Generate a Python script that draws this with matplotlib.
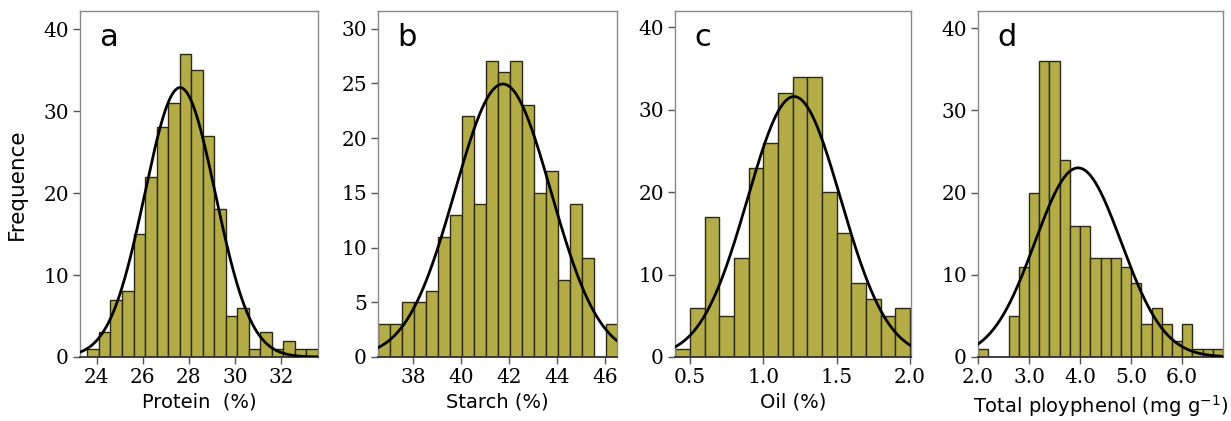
import numpy as np
import matplotlib
matplotlib.use("Agg")
import matplotlib.pyplot as plt

# -------- data ---------------------------------
protein_start, protein_width = 23.6, 0.5
protein_counts = [1, 3, 7, 8, 15, 22, 28, 31, 37, 35, 27, 18, 5, 6, 1, 3, 1, 2, 1, 1]
protein_fit = (27.62, 1.53)

starch_start, starch_width = 36.55, 0.5
starch_counts = [3, 3, 5, 5, 6, 11, 13, 22, 14, 27, 26, 27, 23, 15, 17, 7, 14, 9, 0, 3]
starch_fit = (41.75, 2.0)

oil_start, oil_width = 0.4, 0.1
oil_counts = [1, 6, 17, 5, 12, 23, 26, 32, 34, 34, 20, 15, 9, 7, 5, 6]
oil_fit = (1.21, 0.318)

phenol_start, phenol_width = 2.0, 0.2
phenol_counts = [1, 0, 0, 5, 11, 20, 36, 36, 24, 16, 16, 12, 12, 12, 11, 9,
                 4, 6, 4, 2, 4, 1, 1, 1]
phenol_fit = (3.96, 0.846)

panel_letters = ["a", "b", "c", "d"]
x_labels = ["Protein  (%)", "Starch (%)", "Oil (%)", r"Total ployphenol (mg g$^{-1}$)"]
x_ticks = [[24, 26, 28, 30, 32], [38, 40, 42, 44, 46], [0.5, 1.0, 1.5, 2.0],
           [2.0, 3.0, 4.0, 5.0, 6.0]]
x_ticklabels = [["24", "26", "28", "30", "32"], ["38", "40", "42", "44", "46"],
                ["0.5", "1.0", "1.5", "2.0"], ["2.0", "3.0", "4.0", "5.0", "6.0"]]
y_ticks = [[0, 10, 20, 30, 40], [0, 5, 10, 15, 20, 25, 30], [0, 10, 20, 30, 40],
           [0, 10, 20, 30, 40]]
x_limits = [(23.28, 33.6), (36.55, 46.5), (0.398, 2.007), (2.0, 6.8)]
y_limits = [(0, 42.2), (0, 31.6), (0, 42.0), (0, 42.1)]
# ---------------------------

BAR_COLOR = "#b4ac46"
EDGE_COLOR = "#2b2a14"
SPINE_COLOR = "#8a8a8a"

panels = [
    (protein_start, protein_width, protein_counts, protein_fit),
    (starch_start, starch_width, starch_counts, starch_fit),
    (oil_start, oil_width, oil_counts, oil_fit),
    (phenol_start, phenol_width, phenol_counts, phenol_fit),
]

# axes boxes in pixels: left, right
boxes = [(80, 318), (378, 617), (675, 911), (978, 1223)]
W, H = 1231, 421
top_px, bottom_px = 11, 357

fig = plt.figure(figsize=(W / 100, H / 100), dpi=100)

for i, (start, width, counts, (mu, sd)) in enumerate(panels):
    l, r = boxes[i]
    ax = fig.add_axes([l / W, 1 - bottom_px / H, (r - l) / W, (bottom_px - top_px) / H])
    counts = np.asarray(counts)
    edges = start + width * np.arange(len(counts))
    ax.bar(edges, counts, width=width, align="edge", color=BAR_COLOR,
           edgecolor=EDGE_COLOR, linewidth=1.0, zorder=2)

    # fitted normal curve scaled to counts
    xs = np.linspace(x_limits[i][0], x_limits[i][1], 300)
    n = counts.sum()
    ys = n * width / (sd * np.sqrt(2 * np.pi)) * np.exp(-0.5 * ((xs - mu) / sd) ** 2)
    ax.plot(xs, ys, color="black", linewidth=2.0, zorder=3)

    ax.set_xlim(*x_limits[i])
    ax.set_ylim(*y_limits[i])
    ax.set_xticks(x_ticks[i])
    ax.set_xticklabels(x_ticklabels[i], family="DejaVu Serif", fontsize=14.5)
    ax.set_yticks(y_ticks[i])
    ax.set_yticklabels([str(v) for v in y_ticks[i]], family="DejaVu Serif", fontsize=14.5)
    ax.tick_params(direction="out", length=5, width=1, color="#555555",
                   top=False, right=False, pad=3)
    for s in ax.spines.values():
        s.set_color(SPINE_COLOR)
        s.set_linewidth(1.0)
    ax.spines["bottom"].set_color("#333333")
    ax.spines["bottom"].set_linewidth(1.3)

    ax.set_xlabel(x_labels[i], fontsize=14, family="DejaVu Sans", labelpad=4)
    ax.text(0.08, 0.965, panel_letters[i], transform=ax.transAxes, fontsize=22,
            family="DejaVu Sans", va="top", ha="left")

    if i == 0:
        ax.set_ylabel("Frequence", fontsize=15.5, family="DejaVu Sans", labelpad=12)

fig.savefig("out.png", dpi=100)
